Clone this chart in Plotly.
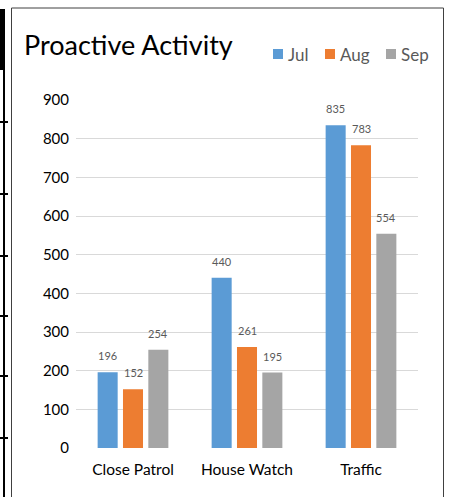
import plotly.graph_objects as go

categories = ["Close Patrol", "House Watch", "Traffic"]
series_names = ["Jul", "Aug", "Sep"]
jul = [196, 440, 835]
aug = [152, 261, 783]
sep = [254, 195, 554]
series_values = [jul, aug, sep]
colors = ["#5B9BD5", "#ED7D31", "#A5A5A5"]
y_ticks = [0, 100, 200, 300, 400, 500, 600, 700, 800, 900]
title_text = "Proactive Activity"

W, H = 450, 497
ML, MR, MT, MB = 76, 32, 100, 49
PW, PH = W - ML - MR, H - MT - MB


def px(x):
    return (x - ML) / PW


def py(y):
    return (H - MB - y) / PH


FONT = "Lato, 'Open Sans', sans-serif"

fig = go.Figure()
for name, vals, col in zip(series_names, series_values, colors):
    fig.add_trace(go.Bar(x=categories, y=vals, name=name, marker=dict(color=col, line=dict(width=0)),
                         showlegend=False, hoverinfo="skip"))

# data labels
offsets = [-25.3, 0, 25.3]
annotations = []
for vals, off in zip(series_values, offsets):
    for c, v in zip(categories, vals):
        annotations.append(dict(x=c, y=v, xref="x", yref="y", text=str(v), showarrow=False,
                                xshift=off, yshift=8, yanchor="bottom",
                                font=dict(family=FONT, size=11, color="#595959")))

# manual legend
leg_x = [273, 325, 386]
shapes = []
for name, col, lx in zip(series_names, colors, leg_x):
    shapes.append(dict(type="rect", xref="paper", yref="paper", x0=px(lx), x1=px(lx + 10),
                       y0=py(59), y1=py(49), fillcolor=col, line=dict(width=0)))
    annotations.append(dict(x=px(lx + 13), y=py(54), xref="paper", yref="paper", text=name,
                            showarrow=False, xanchor="left", yanchor="middle",
                            font=dict(family=FONT, size=17, color="#595959")))

# chart frame
shapes.append(dict(type="rect", xref="paper", yref="paper", x0=px(11.5), x1=px(443.5),
                   y0=py(510), y1=py(8), line=dict(color="#404040", width=1), layer="below"))
# left page decorations
shapes.append(dict(type="rect", xref="paper", yref="paper", x0=px(0), x1=px(5),
                   y0=py(70), y1=py(9), fillcolor="black", line=dict(width=0)))
shapes.append(dict(type="line", xref="paper", yref="paper", x0=px(4), x1=px(4),
                   y0=py(510), y1=py(70), line=dict(color="black", width=2)))
for ty in [122, 194, 256, 316, 376, 438]:
    shapes.append(dict(type="line", xref="paper", yref="paper", x0=px(0), x1=px(8),
                       y0=py(ty), y1=py(ty), line=dict(color="black", width=2)))

fig.update_layout(
    width=W, height=H,
    margin=dict(l=ML, r=MR, t=MT, b=MB, pad=0),
    paper_bgcolor="white", plot_bgcolor="white",
    barmode="group", bargap=0.333, bargroupgap=0.21,
    hovermode=False,
    title=dict(text=title_text, xref="container", yref="container",
               x=24 / W, xanchor="left", y=1 - 46 / H, yanchor="middle",
               font=dict(family=FONT, size=27, color="#000000")),
    xaxis=dict(showgrid=False, showline=False, ticks="", ticklabelstandoff=10,
               tickfont=dict(family=FONT, size=15.5, color="#000000")),
    yaxis=dict(range=[0, 900], tickvals=y_ticks, showgrid=True, gridcolor="#D9D9D9", gridwidth=1,
               zeroline=False, showline=False, ticks="", ticklabelstandoff=6,
               tickfont=dict(family=FONT, size=15, color="#000000")),
    annotations=annotations,
    shapes=shapes,
)
post = ("document.body.style.margin='0';document.body.style.overflow='hidden';"
        "var s=document.createElement('style');s.textContent='text{font-variant-ligatures:none;}';"
        "document.head.appendChild(s);")
fig.write_html("out.html", config={"displayModeBar": False}, post_script=post)
